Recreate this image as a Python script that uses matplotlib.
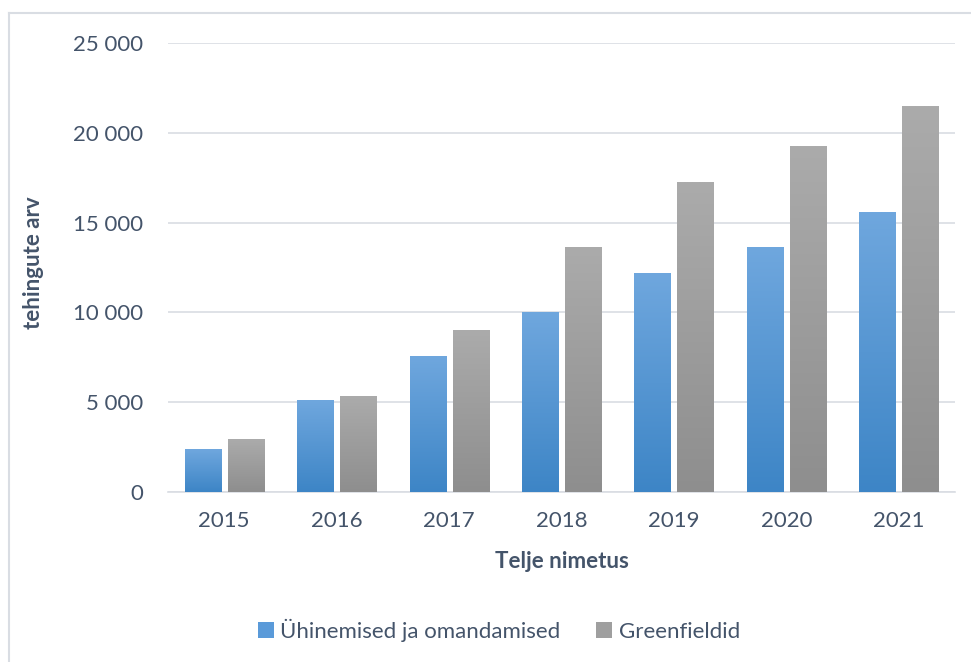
import numpy as np
import matplotlib.pyplot as plt
from matplotlib.lines import Line2D
from matplotlib.patches import Patch
from matplotlib.colors import LinearSegmentedColormap

plt.rcParams['font.family'] = ['Lato', 'DejaVu Sans']

years = ['2015', '2016', '2017', '2018', '2019', '2020', '2021']
mna = [2340, 5070, 7570, 10020, 12190, 13640, 15590]
greenfield = [2950, 5290, 9020, 13590, 17260, 19210, 21490]
series_names = ['Ühinemised ja omandamised', 'Greenfieldid']

txt = '#44546a'
fs = 16
W, H = 971, 662
fig = plt.figure(figsize=(W / 100, H / 100), dpi=100)
ax = fig.add_axes([168 / W, 1 - 492 / H, (955 - 168) / W, (492 - 43) / H])

x = np.arange(len(years))
bw = 36 / 112.4
gap = 7 / 112.4
b1 = ax.bar(x - (bw + gap) / 2, mna, bw, color='none', zorder=3)
b2 = ax.bar(x + (bw + gap) / 2, greenfield, bw, color='none', zorder=3)

# vertical gradient fill for each bar
def grad(bars, top, bottom):
    cmap = LinearSegmentedColormap.from_list('g', [bottom, top])
    g = np.linspace(0, 1, 256).reshape(-1, 1)
    for b in bars:
        x0, y0 = b.get_x(), b.get_y()
        ax.imshow(g, cmap=cmap, origin='lower', aspect='auto', zorder=3,
                  extent=(x0, x0 + b.get_width(), y0, y0 + b.get_height()))

grad(b1, '#6fa7de', '#3d85c6')
grad(b2, '#ababab', '#8e8e8e')

ax.set_xlim(-0.5, len(years) - 0.5)
ax.set_ylim(0, 25000)
ax.set_yticks(np.arange(0, 25001, 5000))
ax.set_yticklabels([f'{v:,}'.replace(',', ' ') for v in range(0, 25001, 5000)])
ax.set_xticks(x)
ax.set_xticklabels(years)
ax.yaxis.grid(True, color='#d9dde3', linewidth=1.2, zorder=0)
ax.set_axisbelow(True)
for s in ['top', 'right', 'left']:
    ax.spines[s].set_visible(False)
ax.spines['bottom'].set_color('#d9dde3')
ax.spines['bottom'].set_linewidth(1.2)
ax.tick_params(length=0, labelsize=fs, labelcolor=txt)
ax.tick_params(axis='y', pad=18)
ax.tick_params(axis='x', pad=14)

ax.set_xlabel('Telje nimetus', fontsize=fs, fontweight='bold', color=txt, labelpad=14)
fig.text(33 / W, 1 - 263 / H, 'tehingute arv', rotation=90, fontsize=fs,
         fontweight='bold', color=txt, ha='center', va='center')

handles = [Patch(facecolor='#5a9ad9', edgecolor='none'),
           Patch(facecolor='#9f9f9f', edgecolor='none')]
fig.legend(handles, series_names, loc='center', bbox_to_anchor=(499 / W, 1 - 630 / H),
           ncol=2, frameon=False, fontsize=fs, labelcolor=txt, handlelength=0.7,
           handleheight=0.7, handletextpad=0.3, columnspacing=1.6)

# outer chart frame (left and top edges)
fig.add_artist(Line2D([8.5 / W, 8.5 / W], [0, 1 - 13 / H], color='#d9dde3', lw=1.5,
                      transform=fig.transFigure))
fig.add_artist(Line2D([8.5 / W, 1], [1 - 13 / H, 1 - 13 / H], color='#d9dde3', lw=1.5,
                      transform=fig.transFigure))

fig.savefig('out.png', dpi=100)
